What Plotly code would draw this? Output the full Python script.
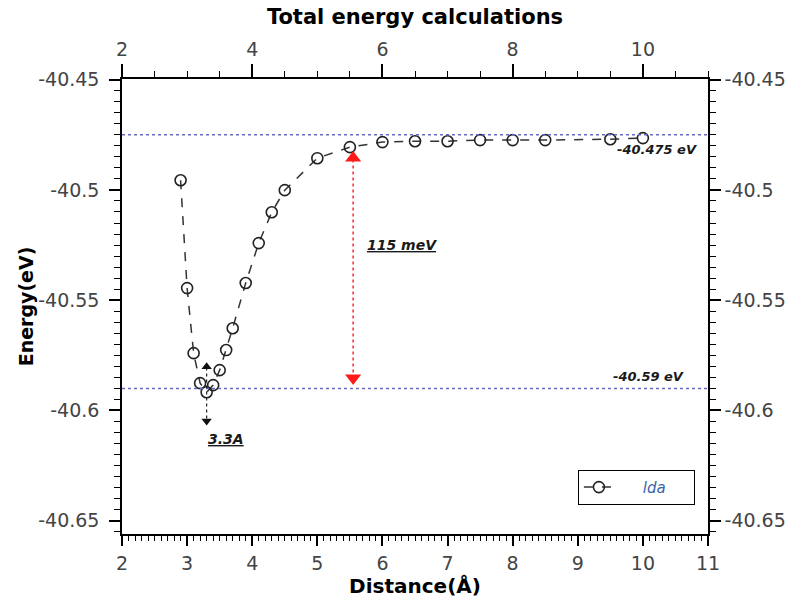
import plotly.graph_objects as go

# ---- data ----
distance = [2.9, 3.0, 3.1, 3.2, 3.3, 3.4, 3.5, 3.6, 3.7, 3.9, 4.1, 4.3, 4.5,
            5.0, 5.5, 6.0, 6.5, 7.0, 7.5, 8.0, 8.5, 9.5, 10.0]
energy = [-40.4956, -40.5445, -40.5740, -40.5876, -40.5917, -40.5885, -40.5817,
          -40.5726, -40.5627, -40.5422, -40.5241, -40.5101, -40.5001, -40.4856,
          -40.4806, -40.4783, -40.4779, -40.4779, -40.4774, -40.4774, -40.4774,
          -40.4770, -40.4765]
series_name = "lda"

level_high = -40.475
level_low = -40.59
min_distance = 3.3
gap_x = 5.55

x_range = [2, 11]
y_range = [-40.656, -40.4497]
y_tickvals = [-40.45, -40.5, -40.55, -40.6, -40.65]
y_ticktext = ["-40.45", "-40.5", "-40.55", "-40.6", "-40.65"]
x_tickvals = [2, 3, 4, 5, 6, 7, 8, 9, 10, 11]
x_ticktext = ["2", "3", "4", "5", "6", "7", "8", "9", "10", "11"]
top_tickvals = [2, 4, 6, 8, 10]
top_ticktext = ["2", "4", "6", "8", "10"]

FONT = "DejaVu Sans"
TICKCOL = "#444444"

fig = go.Figure()

# main series
fig.add_trace(go.Scatter(
    x=distance, y=energy, mode="lines+markers",
    name="\u00a0\u00a0\u00a0\u00a0\u00a0<i>" + series_name + "</i>",
    line=dict(color="#333333", width=1.5, dash="dash"),
    marker=dict(symbol="circle-open", size=11, color="#222222", line=dict(width=1.6)),
))

# reference levels (dotted)
for lv in (level_high, level_low):
    fig.add_trace(go.Scatter(
        x=x_range, y=[lv, lv], mode="lines", showlegend=False, hoverinfo="skip",
        line=dict(color="#6a6ac4", width=1.5, dash="dot"),
    ))

# red double arrow (energy gap)
fig.add_trace(go.Scatter(
    x=[gap_x, gap_x], y=[level_high - 0.0085, level_low + 0.0042], mode="lines",
    showlegend=False, hoverinfo="skip",
    line=dict(color="#ff2a2a", width=1.5, dash="dot"),
))
fig.add_trace(go.Scatter(
    x=[gap_x, gap_x], y=[level_high - 0.0105, level_low + 0.0047], mode="markers",
    showlegend=False, hoverinfo="skip",
    marker=dict(symbol=["triangle-up", "triangle-down"], size=14, color="#ff1a1a"),
))

# black small arrow (minimum distance)
fig.add_trace(go.Scatter(
    x=[min_distance, min_distance], y=[level_low + 0.0095, level_low - 0.0145], mode="lines",
    showlegend=False, hoverinfo="skip",
    line=dict(color="#222222", width=1.2, dash="dot"),
))
fig.add_trace(go.Scatter(
    x=[min_distance, min_distance], y=[level_low + 0.0098, level_low - 0.0148], mode="markers",
    showlegend=False, hoverinfo="skip",
    marker=dict(symbol=["triangle-up", "triangle-down"], size=9, color="#111111"),
))

# dummy trace to activate top/right axes
fig.add_trace(go.Scatter(x=[None], y=[None], xaxis="x2", yaxis="y2",
                         showlegend=False, hoverinfo="skip"))

ann_font = dict(family=FONT, size=14, color="#1a1a1a")
fig.add_annotation(x=6.3, y=-40.525, text="<b><i><u>115 meV</u></i></b>",
                   showarrow=False, font=ann_font)
fig.add_annotation(x=3.6, y=-40.613, text="<b><i><u>3.3A</u></i></b>",
                   showarrow=False, font=ann_font)
fig.add_annotation(x=10.22, y=-40.4815, text="<b><i>-40.475 eV</i></b>",
                   showarrow=False, font=dict(family=FONT, size=13, color="#1a1a1a"))
fig.add_annotation(x=10.08, y=-40.5844, text="<b><i>-40.59 eV</i></b>",
                   showarrow=False, font=dict(family=FONT, size=13, color="#1a1a1a"))

axis_common = dict(showline=True, linecolor="black", linewidth=1.5, ticks="outside",
                   tickcolor="black", tickwidth=1.5, showgrid=False, zeroline=False,
                   automargin=False,
                   tickfont=dict(family=FONT, size=19, color=TICKCOL))

fig.update_layout(
    width=794, height=598,
    margin=dict(l=122, r=86, t=79, b=64),
    paper_bgcolor="white", plot_bgcolor="white",
    font=dict(family=FONT),
    xaxis=dict(range=x_range, tickmode="array", tickvals=x_tickvals, ticktext=x_ticktext,
               ticklen=10, ticklabelstandoff=1,
               minor=dict(dtick=0.1, ticklen=5, ticks="outside",
                          tickcolor="black", tickwidth=1, showgrid=False),
               title=dict(text="<b>Distance(Å)</b>", standoff=4,
                          font=dict(family=FONT, size=20, color="black")),
               **axis_common),
    xaxis2=dict(range=x_range, overlaying="x", side="top", anchor="y2",
                tickmode="array", tickvals=top_tickvals, ticktext=top_ticktext,
                ticklen=13, ticklabelstandoff=1,
                minor=dict(dtick=0.5, ticklen=6, ticks="outside",
                           tickcolor="black", tickwidth=1, showgrid=False),
                title=dict(text="<b>Total energy calculations</b>", standoff=7,
                           font=dict(family=FONT, size=21, color="black")),
                **axis_common),
    yaxis=dict(range=y_range, tickmode="array", tickvals=y_tickvals, ticktext=y_ticktext,
               ticklen=11, ticklabelstandoff=6,
               minor=dict(dtick=0.005, ticklen=6, ticks="outside",
                          tickcolor="black", tickwidth=1, showgrid=False),
               title=dict(text="<b>Energy(eV)</b>", standoff=0,
                          font=dict(family=FONT, size=19, color="black")),
               **axis_common),
    yaxis2=dict(range=y_range, overlaying="y", side="right", anchor="x2",
                tickmode="array", tickvals=y_tickvals, ticktext=y_ticktext,
                ticklen=11, minor=dict(dtick=0.005, ticklen=6, ticks="outside",
                                       tickcolor="black", tickwidth=1, showgrid=False),
                **axis_common),
    legend=dict(x=0.778, y=0.141, xanchor="left", yanchor="top",
                bgcolor="white", bordercolor="black", borderwidth=1,
                orientation="h", entrywidth=70,
                font=dict(family=FONT, size=15, color="#3a66a8")),
    showlegend=True,
)

fig.write_html("out.html")
